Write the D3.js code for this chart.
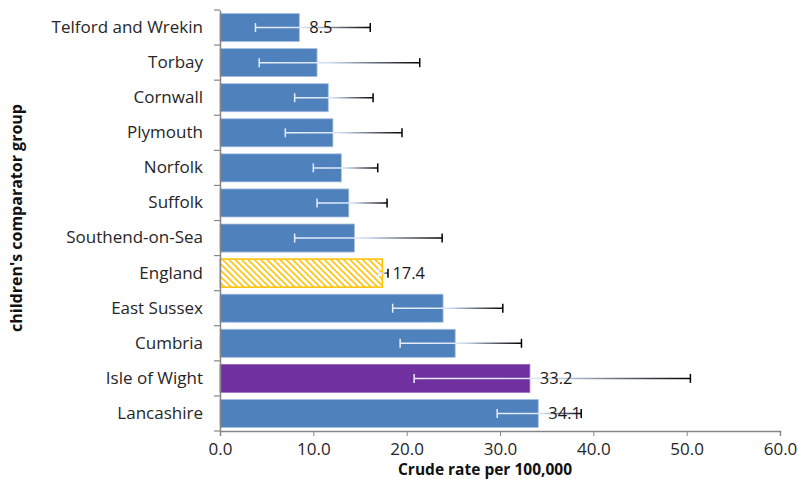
<!DOCTYPE html>
<html><head><meta charset="utf-8">
<script src="https://cdn.jsdelivr.net/npm/d3@7/dist/d3.min.js"></script>
<style>body{margin:0;background:#fff}svg{display:block;font-family:"Open Sans",sans-serif}</style>
</head><body><svg id="c" width="798" height="479"></svg>
<script>
const categories = ["Telford and Wrekin","Torbay","Cornwall","Plymouth","Norfolk","Suffolk","Southend-on-Sea","England","East Sussex","Cumbria","Isle of Wight","Lancashire"];
const values = [8.5,10.4,11.6,12.1,13.0,13.8,14.4,17.4,23.9,25.2,33.2,34.1];
const lowerCI = [3.8,4.2,8.0,7.0,10.0,10.4,8.0,17.0,18.5,19.3,20.8,29.7];
const upperCI = [16.1,21.4,16.4,19.5,16.9,17.9,23.8,18.0,30.3,32.3,50.4,38.7];
const labelled = ["Telford and Wrekin","England","Isle of Wight","Lancashire"];
const xTicks = [0,10,20,30,40,50,60];

const svg = d3.select("#c");
const x = d3.scaleLinear().domain([0,60]).range([220,780]);
const y = d3.scaleBand().domain(categories).range([10,431]).paddingInner(0.2).paddingOuter(0.1);
const defs = svg.append("defs");
const pat = defs.append("pattern").attr("id","hatch").attr("patternUnits","userSpaceOnUse")
  .attr("width",4.5).attr("height",4.5).attr("patternTransform","rotate(-45)");
pat.append("rect").attr("width",4.5).attr("height",4.5).attr("fill","#fff");
pat.append("rect").attr("width",1.6).attr("height",4.5).attr("fill","#ffc000");

function fillFor(c){ if(c==="England") return "url(#hatch)"; if(c==="Isle of Wight") return "#7030a0"; return "#4f81bd"; }
function strokeFor(c){ if(c==="England") return "#ffc000"; if(c==="Isle of Wight") return "#9a6cc4"; return "#a9c0e0"; }

const data = categories.map((c,i)=>({c, v:values[i], lo:lowerCI[i], hi:upperCI[i]}));

svg.append("g").selectAll("rect").data(data).join("rect")
  .attr("x", x(0)).attr("y", d=>y(d.c)).attr("width", d=>x(d.v)-x(0)).attr("height", y.bandwidth())
  .attr("fill", d=>fillFor(d.c)).attr("stroke", d=>strokeFor(d.c)).attr("stroke-width", d=>d.c==="England"?1.5:0.8);

// error bars with gradient
data.forEach((d,i)=>{
  const g = defs.append("linearGradient").attr("id","eg"+i).attr("gradientUnits","userSpaceOnUse")
    .attr("x1", x(d.lo)).attr("x2", x(d.hi)).attr("y1",0).attr("y2",0);
  const t = Math.max(0, Math.min(1, (d.v-d.lo)/(d.hi-d.lo)));
  g.append("stop").attr("offset",0).attr("stop-color","#e6edf7");
  g.append("stop").attr("offset",t).attr("stop-color","#dbe6f7");
  g.append("stop").attr("offset",Math.min(1,t+ (1-t)*0.15)).attr("stop-color","#c8d6ee");
  g.append("stop").attr("offset",1).attr("stop-color","#000");
  const cy = y(d.c)+y.bandwidth()/2;
  const eg = svg.append("g");
  eg.append("line").attr("x1",x(d.lo)).attr("x2",x(d.hi)).attr("y1",cy).attr("y2",cy)
    .attr("stroke","url(#eg"+i+")").attr("stroke-width",1.5);
  eg.append("line").attr("x1",x(d.lo)).attr("x2",x(d.lo)).attr("y1",cy-4.5).attr("y2",cy+4.5)
    .attr("stroke","#e6edf7").attr("stroke-width",1.5);
  eg.append("line").attr("x1",x(d.hi)).attr("x2",x(d.hi)).attr("y1",cy-4.5).attr("y2",cy+4.5)
    .attr("stroke","#000").attr("stroke-width",1.5);
});

// value labels
svg.append("g").selectAll("text").data(data.filter(d=>labelled.includes(d.c))).join("text")
  .attr("x", d=>x(d.v)+10).attr("y", d=>y(d.c)+y.bandwidth()/2).attr("dy","0.36em")
  .attr("font-size",16.5).attr("fill","#1a1a1a").text(d=>d.v.toFixed(1));

// axes
const xa = svg.append("g").attr("transform","translate(0,431)")
  .call(d3.axisBottom(x).tickValues(xTicks).tickFormat(d3.format(".1f")).tickSize(5).tickPadding(7));
const ya = svg.append("g").attr("transform","translate(220,0)")
  .call(d3.axisLeft(y).tickSize(0).tickPadding(17));
[xa,ya].forEach(a=>{a.selectAll("path").attr("stroke","#868686").attr("stroke-width",1.5);
  a.selectAll("line").attr("stroke","#868686");
  a.selectAll("text").attr("font-size",17).attr("fill","#262626").attr("font-family","'Open Sans',sans-serif");});
// y band boundary ticks
const bounds = categories.map(c=>y(c)-y.step()*y.paddingInner()/2).concat([431]);
svg.append("g").selectAll("line").data(bounds).join("line")
  .attr("x1",214).attr("x2",220).attr("y1",d=>d).attr("y2",d=>d).attr("stroke","#868686").attr("stroke-width",1.2);

svg.append("text").attr("x",485).attr("y",475).attr("text-anchor","middle")
  .attr("font-size",15.5).attr("font-weight","bold").attr("fill","#111").text("Crude rate per 100,000");
svg.append("text").attr("transform","translate(22,218) rotate(-90)").attr("text-anchor","middle")
  .attr("font-size",16).attr("font-weight","bold").attr("fill","#111").text("children's comparator group");
</script></body></html>
